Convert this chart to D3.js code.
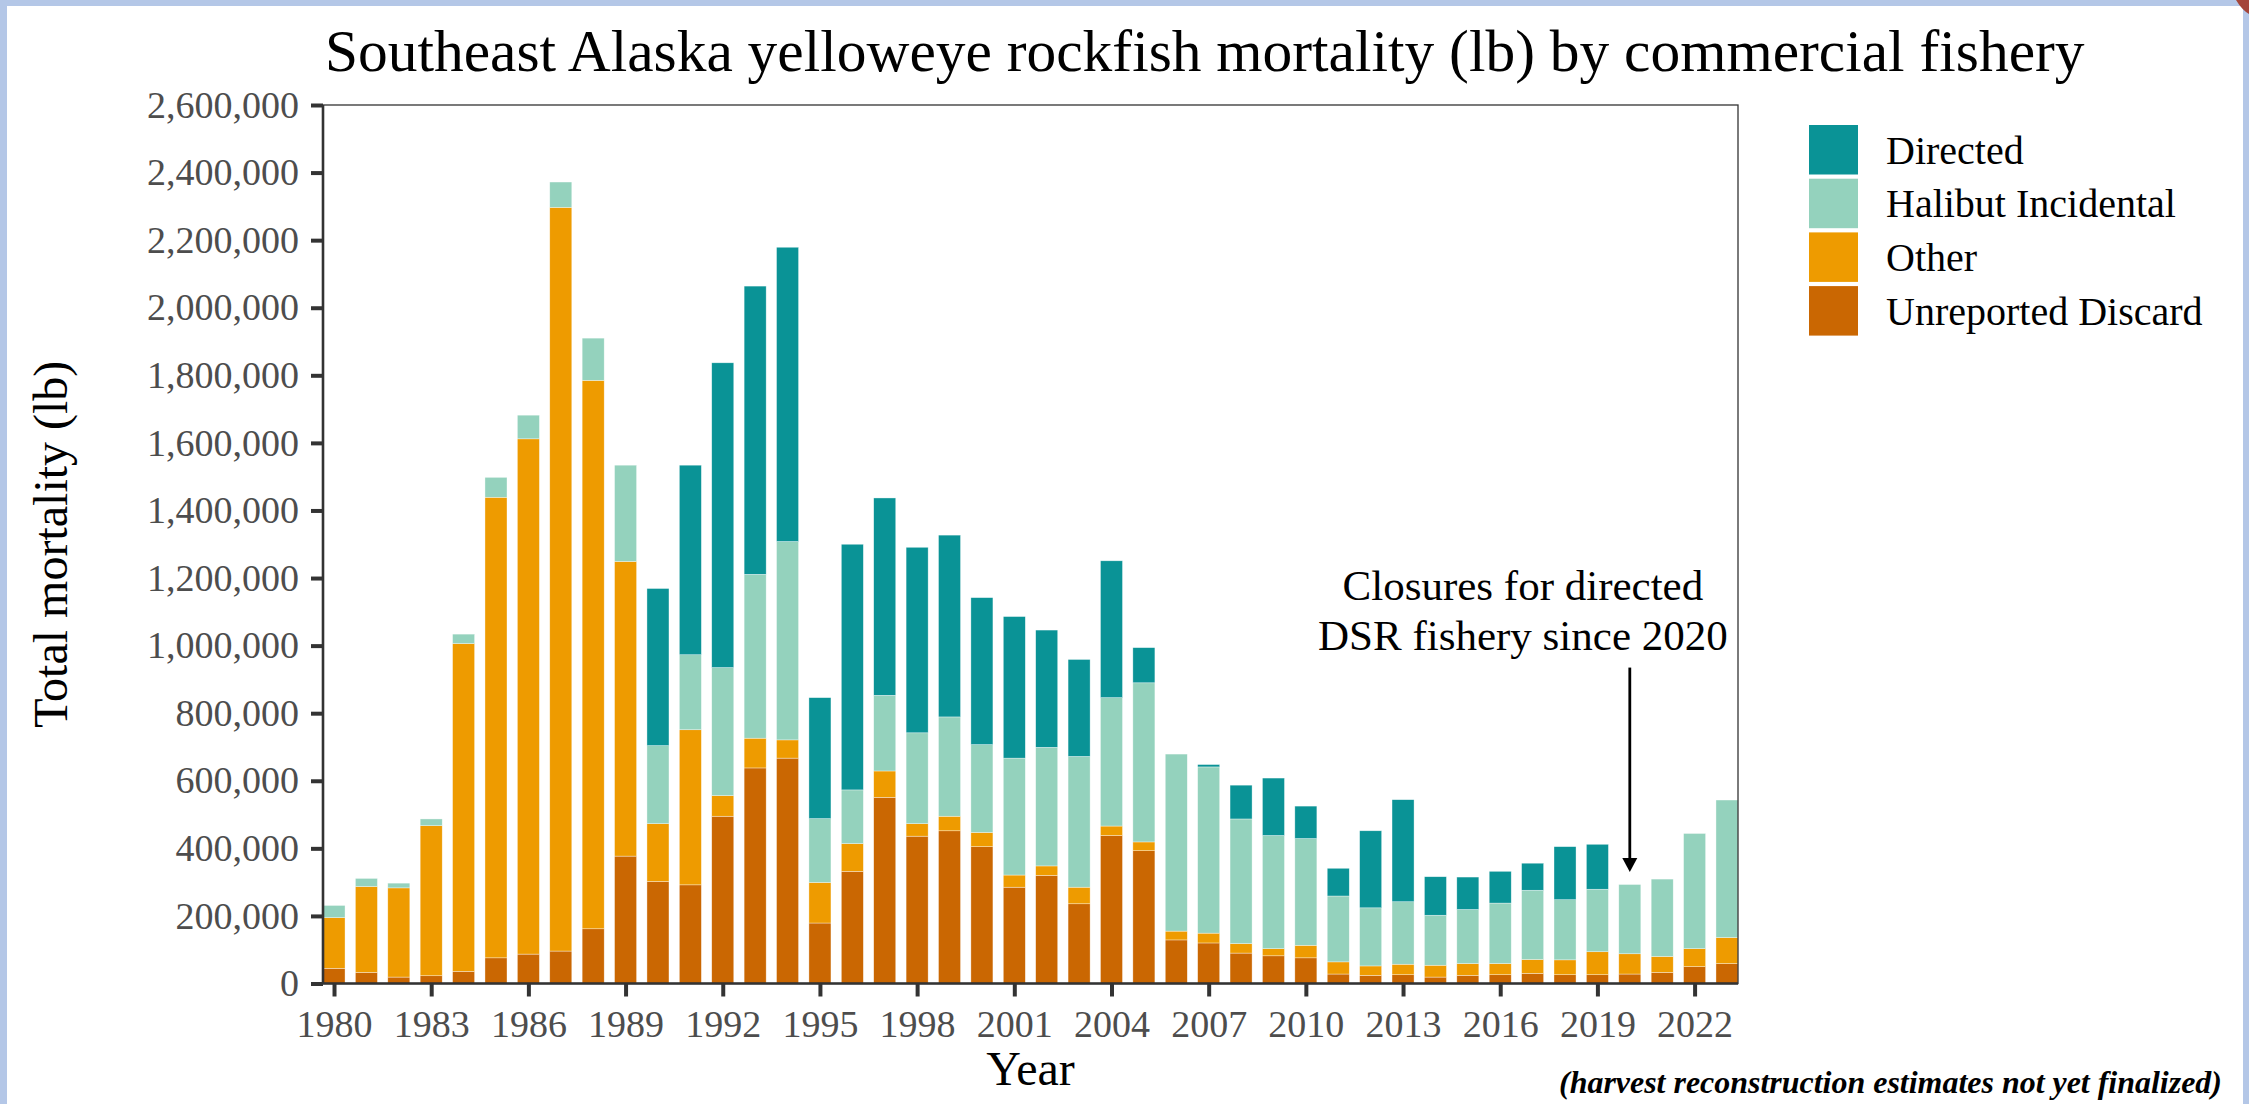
<!DOCTYPE html>
<html>
<head>
<meta charset="utf-8">
<script src="https://cdn.jsdelivr.net/npm/d3@7"></script>
<style>
  html, body { margin: 0; padding: 0; background: #fff; }
  svg { display: block; }
  text { font-family: "Liberation Serif", "Times New Roman", serif; }
</style>
</head>
<body>
<svg id="chart" width="2249" height="1104"></svg>
<script>
// yelloweye mortality (lb), 1980-2023
const years = d3.range(1980, 2024);
const unreported = [45000, 33000, 19000, 23000, 36000, 76000, 87000, 96000, 162000, 377000,
  302000, 292000, 495000, 638000, 667000, 179000, 332000, 551000, 436000, 452000,
  405000, 285000, 320000, 236000, 438000, 393000, 129000, 120000, 90000, 82000,
  76000, 28000, 24000, 26000, 19000, 24000, 26000, 30000, 26000, 26000,
  28000, 33000, 50000, 59000];
const other = [150000, 254000, 264000, 444000, 970000, 1363000, 1525000, 2201000, 1623000, 872000,
  171000, 459000, 61000, 88000, 54000, 120000, 82000, 78000, 37000, 43000,
  42000, 36000, 28000, 49000, 28000, 26000, 26000, 29000, 28000, 21000,
  37000, 36000, 28000, 31000, 35000, 35000, 33000, 41000, 44000, 68000,
  60000, 47000, 53000, 77000];
const halibut = [36000, 24000, 14000, 20000, 28000, 59000, 70000, 75000, 125000, 285000,
  231000, 222000, 379000, 485000, 587000, 189000, 159000, 224000, 269000, 294000,
  260000, 346000, 351000, 387000, 380000, 471000, 524000, 492000, 369000, 335000,
  316000, 195000, 172000, 185000, 148000, 160000, 179000, 205000, 178000, 185000,
  205000, 229000, 341000, 407000];
const directed = [0, 0, 0, 0, 0, 0, 0, 0, 0, 0,
  465000, 561000, 902000, 853000, 871000, 358000, 727000, 584000, 549000, 538000,
  435000, 419000, 347000, 287000, 405000, 104000, 0, 7000, 100000, 170000,
  96000, 82000, 228000, 302000, 114000, 96000, 94000, 80000, 157000, 133000,
  0, 0, 0, 0];

const legendLabels = ["Directed", "Halibut Incidental", "Other", "Unreported Discard"];
const stackKeys = ["unreported", "other", "halibut", "directed"];
const colors = { directed: "#0a9396", halibut: "#94d2bd", other: "#ee9b00", unreported: "#ca6702" };
const legendKeys = ["directed", "halibut", "other", "unreported"];
const xTicks = d3.range(1980, 2023, 3);
const yTicks = d3.range(0, 2600001, 200000);

const rows = years.map((yr, i) => ({
  year: yr, unreported: unreported[i], other: other[i], halibut: halibut[i], directed: directed[i]
}));

const svg = d3.select("#chart");
const panelL = 323, panelR = 1738, panelT = 105, panelB = 983.5;
const barW = 0.68;

const x = d3.scaleLinear().domain([1980 - barW / 2, 2023 + barW / 2]).range([panelL, panelR]);
const y = d3.scaleLinear().domain([0, 2600000]).range([panelB, panelT]);

// slide frame
svg.append("rect").attr("x", 0).attr("y", 0).attr("width", 2249).attr("height", 6).attr("fill", "#b4c7e7");
svg.append("rect").attr("x", 0).attr("y", 0).attr("width", 7).attr("height", 1104).attr("fill", "#b4c7e7");
svg.append("rect").attr("x", 2243).attr("y", 0).attr("width", 6).attr("height", 1104).attr("fill", "#b4c7e7");
svg.append("path").attr("d", "M2236,0 L2249,0 L2249,14 Q2242,10 2236,0 Z").attr("fill", "#a4453a");

const fit = (sel, w) => {
  const fs = parseFloat(sel.attr("font-size"));
  const cur = sel.node().getComputedTextLength();
  sel.attr("font-size", fs * w / cur);
};

// title
svg.append("text")
  .attr("x", 325).attr("y", 71)
  .attr("font-size", 59).attr("fill", "#000")
  .text("Southeast Alaska yelloweye rockfish mortality (lb) by commercial fishery")
  .call(fit, 1760);

// bars
const series = d3.stack().keys(stackKeys)(rows);
const g = svg.append("g");
g.selectAll("g.layer")
  .data(series)
  .join("g")
  .attr("class", "layer")
  .attr("fill", d => colors[d.key])
  .selectAll("rect")
  .data(d => d.filter(s => s[1] - s[0] > 0))
  .join("rect")
  .attr("x", d => x(d.data.year - barW / 2))
  .attr("width", x(barW) - x(0))
  .attr("y", d => y(d[1]))
  .attr("height", d => y(d[0]) - y(d[1]))
  .attr("stroke", "#fff").attr("stroke-width", 0.6).attr("stroke-opacity", 0.6);

// panel border (thin) then axis lines
svg.append("rect")
  .attr("x", panelL).attr("y", panelT).attr("width", panelR - panelL).attr("height", panelB - panelT)
  .attr("fill", "none").attr("stroke", "#333").attr("stroke-width", 1.3);

const yAxis = svg.append("g")
  .attr("transform", `translate(${panelL},0)`)
  .call(d3.axisLeft(y).tickValues(yTicks).tickFormat(d3.format(",")).tickSize(12).tickPadding(12));
const xAxis = svg.append("g")
  .attr("transform", `translate(0,${panelB})`)
  .call(d3.axisBottom(x).tickValues(xTicks).tickFormat(d3.format("d")).tickSize(13).tickPadding(10));

[yAxis, xAxis].forEach(a => {
  a.select(".domain").attr("stroke", "#333").attr("stroke-width", 2.6);
  a.selectAll(".tick line").attr("stroke", "#333").attr("stroke-width", 4);
  a.selectAll(".tick text")
    .attr("font-family", "Liberation Serif, Times New Roman, serif")
    .attr("font-size", 38).attr("fill", "#4d4d4d");
});
xAxis.select(".domain").attr("d", `M${panelL},0H${panelR}`);
yAxis.select(".domain").attr("d", `M0,${panelB}V${panelT}`);
xAxis.selectAll(".tick text").attr("dy", "0.8em");

// axis titles
svg.append("text")
  .attr("x", (panelL + panelR) / 2).attr("y", 1085)
  .attr("text-anchor", "middle").attr("font-size", 48).attr("fill", "#000")
  .text("Year");
svg.append("text")
  .attr("transform", `translate(67,${(panelT + panelB) / 2}) rotate(-90)`)
  .attr("text-anchor", "middle").attr("font-size", 48).attr("fill", "#000")
  .text("Total mortality (lb)");

// annotation
const noteX = x(2016.7);
svg.append("text")
  .attr("x", noteX).attr("y", 600)
  .attr("text-anchor", "middle").attr("font-size", 43).attr("fill", "#000")
  .text("Closures for directed");
svg.append("text")
  .attr("x", noteX).attr("y", 650)
  .attr("text-anchor", "middle").attr("font-size", 43).attr("fill", "#000")
  .text("DSR fishery since 2020");

const ax = x(2020), ay0 = y(935000), ay1 = y(330000);
svg.append("line")
  .attr("x1", ax).attr("x2", ax).attr("y1", ay0).attr("y2", ay1 - 12)
  .attr("stroke", "#000").attr("stroke-width", 2.8);
svg.append("path")
  .attr("d", `M${ax - 7.5},${ay1 - 14} L${ax + 7.5},${ay1 - 14} L${ax},${ay1} Z`)
  .attr("fill", "#000");

// legend
const lg = svg.append("g").attr("transform", "translate(1809,125)");
const pitch = 53.7;
legendKeys.forEach((k, i) => {
  lg.append("rect")
    .attr("x", 0).attr("y", i * pitch).attr("width", 49).attr("height", 49.5)
    .attr("fill", colors[k]);
  lg.append("text")
    .attr("x", 77).attr("y", i * pitch + 25 + 13.5)
    .attr("font-size", 40).attr("fill", "#000")
    .text(legendLabels[i]);
});

// footnote: condensed bold italic serif
svg.append("text")
  .attr("x", 2222).attr("y", 1093)
  .attr("text-anchor", "end").attr("font-size", 31)
  .attr("font-family", "Liberation Serif, serif")
  .attr("font-weight", "bold").attr("font-style", "italic").attr("fill", "#000")
  .attr("textLength", 663).attr("lengthAdjust", "spacingAndGlyphs")
  .text("(harvest reconstruction estimates not yet finalized)");
</script>
</body>
</html>
